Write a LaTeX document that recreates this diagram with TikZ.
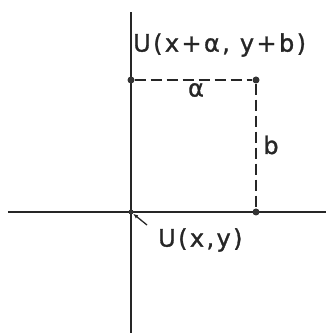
\documentclass[tikz,border=0pt]{standalone}
\usepackage{fontspec}
\setmainfont{DejaVu Sans}[LetterSpace=10,FakeBold=1.2]
\usetikzlibrary{arrows.meta}
\begin{document}
\begin{tikzpicture}[x=1pt,y=1pt,
  ink/.style={draw=black!85,line width=2pt},
  dashline/.style={draw=black!85,line width=1.8pt,dash pattern=on 11pt off 5pt},
  dot/.style={circle,fill=black!80,inner sep=0pt,minimum size=7pt},
  lbl/.style={font=\fontsize{24}{27}\selectfont,text=black!85,inner sep=0pt}]
\useasboundingbox (0,0) rectangle (326,333);
\coordinate (ytop) at (131,321);
\coordinate (ybot) at (131,0);
\coordinate (xl) at (8,121);
\coordinate (xr) at (326,121);
\draw[ink] (ybot) -- (ytop);
\draw[ink] (xl) -- (xr);
\node[dot,minimum size=5pt] (O) at (131,121) {};
\node[dot] (P) at (256,121) {};
\node[dot] (Q) at (256,253) {};
\node[dot] (R) at (131,253) {};
\draw[dashline] (R) -- (Q);
\draw[dashline] (Q) -- (P);
\node[lbl,anchor=west] (top) at (133,288) {U(x+α, y+b)};
\node[lbl] (a) at (196,243) {α};
\node[lbl] (b) at (271,188) {b};
\node[lbl,anchor=west] (bot) at (158,93) {U(x,y)};
\coordinate (arrs) at (147,108);
\draw[draw=black!85,line width=1.3pt,-{Latex[length=5pt,width=4pt]}] (arrs) -- (O);
\end{tikzpicture}
\end{document}
